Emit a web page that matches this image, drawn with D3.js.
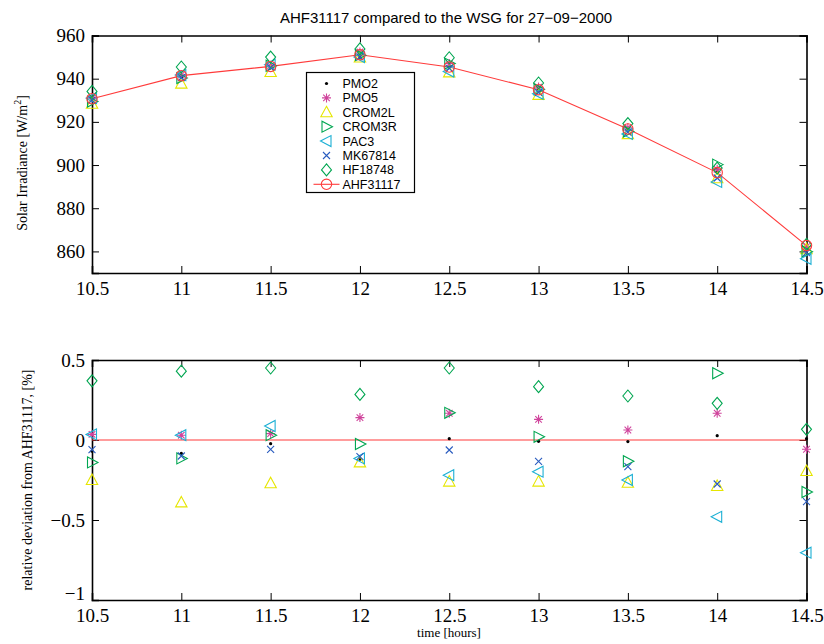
<!DOCTYPE html>
<html>
<head>
<meta charset="utf-8">
<script src="https://cdn.jsdelivr.net/npm/d3@7"></script>
<style>
  body { margin: 0; background: #fff; }
  text.tick-label { font-family: "Liberation Serif", "Times New Roman", serif; font-size: 19px; fill: #000; }
</style>
</head>
<body>
<svg id="chart" width="824" height="644"></svg>
<script>
// Measurement times (hours)
const hours = [10.5, 11, 11.5, 12, 12.5, 13, 13.5, 14, 14.5];

// Solar irradiance [W/m^2] per instrument
const irrPMO2    = [930.1, 940.6, 945.5, 950.0, 945.5, 934.8, 916.6, 896.7, 862.8];
const irrPMO5    = [931.0, 941.7, 946.1, 952.4, 947.0, 936.1, 917.3, 898.0, 862.2];
const irrCROM2L  = [928.4, 937.7, 943.1, 949.8, 942.9, 932.5, 914.3, 893.9, 861.0];
const irrCROM3R  = [929.4, 940.3, 946.0, 950.9, 947.0, 935.1, 915.5, 900.2, 859.9];
const irrPAC3    = [931.0, 941.7, 946.5, 950.0, 943.3, 933.0, 914.4, 892.2, 856.6];
const irrMK67814 = [930.1, 940.5, 945.2, 950.1, 944.8, 933.7, 915.2, 894.0, 859.4];
const irrHF18748 = [934.1, 945.4, 950.0, 953.8, 949.7, 938.0, 919.2, 898.6, 863.3];
const irrAHF31117 = [930.7, 941.4, 945.7, 951.1, 945.4, 934.9, 916.7, 896.5, 862.7];

// Relative deviation from AHF31117 [%]
const devPMO2    = [-0.07, -0.083, -0.023, -0.12, 0.008, -0.008, -0.01, 0.027, 0.008];
const devPMO5    = [0.035, 0.03, 0.04, 0.14, 0.167, 0.129, 0.0625, 0.167, -0.058];
const devCROM2L  = [-0.25, -0.39, -0.27, -0.14, -0.26, -0.26, -0.267, -0.2875, -0.194];
const devCROM3R  = [-0.14, -0.115, 0.03, -0.025, 0.17, 0.02, -0.133, 0.417, -0.325];
const devPAC3    = [0.035, 0.03, 0.0875, -0.115, -0.22, -0.198, -0.25, -0.48, -0.704];
const devMK67814 = [-0.06, -0.1, -0.058, -0.104, -0.0625, -0.133, -0.167, -0.275, -0.385];
const devHF18748 = [0.37, 0.43, 0.45, 0.285, 0.45, 0.333, 0.275, 0.229, 0.067];
const devAHF31117 = [0, 0, 0, 0, 0, 0, 0, 0, 0];

// Tick labels
const hourTicks = [10.5, 11, 11.5, 12, 12.5, 13, 13.5, 14, 14.5];
const irrTicks = [860, 880, 900, 920, 940, 960];
const devTicks = [-1, -0.5, 0, 0.5];

const seriesNames = ["PMO2", "PMO5", "CROM2L", "CROM3R", "PAC3", "MK67814", "HF18748", "AHF31117"];
const seriesColors = ["#000000", "#d0449c", "#e6e600", "#00a651", "#1cb0d4", "#2a5cbf", "#00a651", "#ff3b3b"];
const seriesMarkers = ["dot", "asterisk", "triUp", "triRight", "triLeft", "cross", "diamond", "circle"];

const irrSeries = [irrPMO2, irrPMO5, irrCROM2L, irrCROM3R, irrPAC3, irrMK67814, irrHF18748, irrAHF31117];
const devSeries = [devPMO2, devPMO5, devCROM2L, devCROM3R, devPAC3, devMK67814, devHF18748, devAHF31117];

const svg = d3.select("#chart");

// Marker path builders (centred on 0,0)
function markerPath(kind) {
  const p = d3.path();
  switch (kind) {
    case "asterisk":
      p.moveTo(-4.5, 0); p.lineTo(4.5, 0);
      p.moveTo(0, -4.5); p.lineTo(0, 4.5);
      p.moveTo(-3.3, -3.3); p.lineTo(3.3, 3.3);
      p.moveTo(-3.3, 3.3); p.lineTo(3.3, -3.3);
      break;
    case "triUp":
      p.moveTo(0, -6); p.lineTo(5.7, 4.5); p.lineTo(-5.7, 4.5); p.closePath();
      break;
    case "triRight":
      p.moveTo(6, 0); p.lineTo(-4.5, -5.5); p.lineTo(-4.5, 5.5); p.closePath();
      break;
    case "triLeft":
      p.moveTo(-6, 0); p.lineTo(4.5, -5.5); p.lineTo(4.5, 5.5); p.closePath();
      break;
    case "cross":
      p.moveTo(-3.5, -3.5); p.lineTo(3.5, 3.5);
      p.moveTo(-3.5, 3.5); p.lineTo(3.5, -3.5);
      break;
    case "diamond":
      p.moveTo(0, -6); p.lineTo(5, 0); p.lineTo(0, 6); p.lineTo(-5, 0); p.closePath();
      break;
    case "circle":
      p.arc(0, 0, 5.2, 0, 2 * Math.PI);
      break;
  }
  return p.toString();
}

function drawMarker(g, kind, color, x, y) {
  if (kind === "dot") {
    g.append("circle").attr("cx", x).attr("cy", y).attr("r", 1.6).attr("fill", color);
  } else {
    g.append("path")
      .attr("d", markerPath(kind))
      .attr("transform", `translate(${x},${y})`)
      .attr("fill", "none")
      .attr("stroke", color)
      .attr("stroke-width", 1.1);
  }
}

const left = 92, right = 806.5;
const x = d3.scaleLinear().domain([10.5, 14.5]).range([left, right]);

function fmt(v) { return String(v).replace("-", "\u2212"); }

function panel(top, bottom, yDomain, yTicks, dataSeries, zeroLine) {
  const y = d3.scaleLinear().domain(yDomain).range([bottom, top]);
  const g = svg.append("g");

  // Axis box with inward ticks on all four sides
  const tickLen = 7;
  const axB = d3.axisBottom(x).tickValues(hourTicks).tickSize(-tickLen).tickFormat(d => fmt(d));
  const axT = d3.axisTop(x).tickValues(hourTicks).tickSize(-tickLen).tickFormat("");
  const axL = d3.axisLeft(y).tickValues(yTicks).tickSize(-tickLen).tickFormat(d => fmt(d));
  const axR = d3.axisRight(y).tickValues(yTicks).tickSize(-tickLen).tickFormat("");

  const gb = g.append("g").attr("transform", `translate(0,${bottom})`).call(axB);
  const gt = g.append("g").attr("transform", `translate(0,${top})`).call(axT);
  const gl = g.append("g").attr("transform", `translate(${left},0)`).call(axL);
  const gr = g.append("g").attr("transform", `translate(${right},0)`).call(axR);

  [gb, gt, gl, gr].forEach(a => {
    a.select(".domain").attr("stroke", "#000").attr("stroke-width", 1.6);
    a.selectAll(".tick line").attr("stroke", "#000").attr("stroke-width", 1);
  });
  gb.selectAll(".tick text").attr("class", "tick-label").attr("y", 9).attr("dy", "0.71em")
    .attr("font-size", null).attr("font-family", null);
  // The label at the lower corner sits a little higher so it clears the x labels
  gl.selectAll(".tick text").attr("class", "tick-label").attr("x", -7)
    .attr("dy", d => (d === yDomain[0] ? "-0.05em" : "0.32em"))
    .attr("font-size", null).attr("font-family", null);
  gb.attr("font-size", null).attr("font-family", null);
  gl.attr("font-size", null).attr("font-family", null);

  const plot = g.append("g");

  const lineVals = zeroLine ? devAHF31117 : irrAHF31117;
  plot.append("path")
    .datum(hours.map((h, i) => [h, lineVals[i]]))
    .attr("d", d3.line().x(d => x(d[0])).y(d => y(d[1])))
    .attr("fill", "none").attr("stroke", "#ff3b3b").attr("stroke-width", 1.1);

  dataSeries.forEach((vals, s) => {
    if (zeroLine && s === 7) return;
    vals.forEach((v, i) => drawMarker(plot, seriesMarkers[s], seriesColors[s], x(hours[i]), y(v)));
  });
  return y;
}

// Upper panel: irradiance
panel(35.5, 273, [850, 960], irrTicks, irrSeries, false);

// Lower panel: relative deviation
panel(360, 600, [-1, 0.5], devTicks, devSeries, true);

// Title
svg.append("text")
  .attr("x", 446).attr("y", 23)
  .attr("text-anchor", "middle")
  .attr("font-family", "'Liberation Sans', Arial, sans-serif")
  .attr("font-size", 15)
  .text("AHF31117 compared to the WSG for 27\u221209\u22122000");

// Axis labels
const yl1 = svg.append("text")
  .attr("transform", "translate(27,163) rotate(-90)")
  .attr("text-anchor", "middle")
  .attr("font-family", "'Liberation Serif', 'Times New Roman', serif")
  .attr("font-size", 14);
yl1.append("tspan").text("Solar Irradiance [W/m");
yl1.append("tspan").attr("font-size", 10).attr("dy", -6).text("2");
yl1.append("tspan").attr("dy", 6).text("]");

svg.append("text")
  .attr("transform", "translate(32,480) rotate(-90)")
  .attr("text-anchor", "middle")
  .attr("font-family", "'Liberation Serif', 'Times New Roman', serif")
  .attr("font-size", 14)
  .text("relative deviation from AHF31117, [%]");

svg.append("text")
  .attr("x", 449).attr("y", 637)
  .attr("text-anchor", "middle")
  .attr("font-family", "'Liberation Serif', 'Times New Roman', serif")
  .attr("font-size", 13)
  .text("time [hours]");

// Legend
const lg = svg.append("g").attr("transform", "translate(306.5,72.5)");
lg.append("rect").attr("width", 108).attr("height", 120)
  .attr("fill", "#fff").attr("stroke", "#000").attr("stroke-width", 1.2);
seriesNames.forEach((name, s) => {
  const cy = 11 + s * 14.4;
  if (s === 7) {
    lg.append("line").attr("x1", 7).attr("x2", 33).attr("y1", cy).attr("y2", cy)
      .attr("stroke", seriesColors[s]).attr("stroke-width", 1.1);
  }
  drawMarker(lg, seriesMarkers[s], seriesColors[s], 20, cy);
  lg.append("text").attr("x", 36).attr("y", cy).attr("dy", "0.36em")
    .attr("font-family", "'Liberation Sans', Arial, sans-serif")
    .attr("font-size", 12.5)
    .text(name);
});
</script>
</body>
</html>
